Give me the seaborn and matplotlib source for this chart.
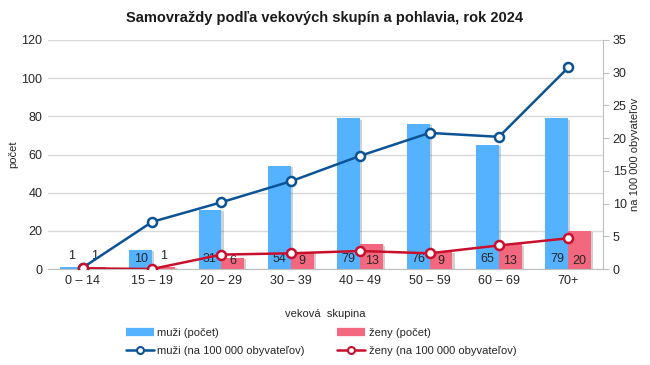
import numpy as np
import pandas as pd
import matplotlib
matplotlib.use("Agg")
import matplotlib.pyplot as plt
import matplotlib.patheffects as pe
from matplotlib.lines import Line2D
import seaborn as sns

# Data
groups = ["0 – 14", "15 – 19", "20 – 29", "30 – 39", "40 – 49", "50 – 59", "60 – 69", "70+"]
men_count = [1, 10, 31, 54, 79, 76, 65, 79]
women_count = [1, 1, 6, 9, 13, 9, 13, 20]
men_rate = [0.2, 7.2, 10.2, 13.4, 17.3, 20.8, 20.2, 30.8]
women_rate = [0.1, 0.0, 2.2, 2.4, 2.75, 2.4, 3.6, 4.7]

label_men_count = "muži (počet)"
label_women_count = "ženy (počet)"
label_men_rate = "muži (na 100 000 obyvateľov)"
label_women_rate = "ženy (na 100 000 obyvateľov)"

c_men_bar = "#55B2FF"
c_women_bar = "#F4687F"
c_men_line = "#0B5394"
c_women_line = "#C8102E"

sns.set_style("white")
plt.rcParams["font.family"] = ["Liberation Sans", "DejaVu Sans"]

df = pd.DataFrame({
    "group": groups * 2,
    "count": men_count + women_count,
    "sex": [label_men_count] * len(groups) + [label_women_count] * len(groups),
})

fig = plt.figure(figsize=(6.5, 3.65), dpi=100)
ax = fig.add_axes([48 / 650, 1 - 269 / 365, 555 / 650, 229 / 365])

sns.barplot(data=df, x="group", y="count", hue="sex", order=groups,
            palette=[c_men_bar, c_women_bar], width=0.66, ax=ax,
            legend=False, saturation=1, linewidth=0, edgecolor="none")
for p in ax.patches:
    p.set_path_effects([pe.SimplePatchShadow(offset=(1.5, -1), alpha=0.22), pe.Normal()])

ax.set_ylim(0, 120)
ax.set_yticks(np.arange(0, 121, 20))
ax.set_xlim(-0.5, len(groups) - 0.5)
ax.yaxis.grid(True, color="#D9D9D9", lw=1)
ax.set_axisbelow(True)
for s in ["top", "right", "left"]:
    ax.spines[s].set_visible(False)
ax.spines["bottom"].set_color("#BFBFBF")
ax.tick_params(axis="both", length=0, labelsize=9, colors="#262626", pad=4)
ax.set_xlabel("veková  skupina", fontsize=8, color="#262626", labelpad=16)
ax.set_ylabel("počet", fontsize=8, color="#262626")
ax.yaxis.set_label_coords(-0.054, 0.5)

# data labels near bar bases
x = np.arange(len(groups))
off = 0.165
for i in range(len(groups)):
    ym = 7 if men_count[i] < 5 else 5
    yw = 7 if women_count[i] < 5 else 4
    ax.text(x[i] - off, ym, str(men_count[i]), ha="center", va="center",
            fontsize=9, color="#262626", zorder=5)
    ax.text(x[i] + off, yw, str(women_count[i]), ha="center", va="center",
            fontsize=9, color="#262626", zorder=5)

ax2 = ax.twinx()
sns.lineplot(x=x, y=men_rate, ax=ax2, color=c_men_line, lw=1.8, marker="o",
             markersize=6.5, markerfacecolor="white", markeredgecolor=c_men_line,
             markeredgewidth=1.8, zorder=4)
sns.lineplot(x=x, y=women_rate, ax=ax2, color=c_women_line, lw=1.8, marker="o",
             markersize=6.5, markerfacecolor="white", markeredgecolor=c_women_line,
             markeredgewidth=1.8, zorder=4)
ax2.set_ylim(0, 35)
ax2.set_yticks(np.arange(0, 36, 5))
ax2.set_xlim(-0.5, len(groups) - 0.5)
for s in ["top", "left", "bottom"]:
    ax2.spines[s].set_visible(False)
ax2.spines["right"].set_color("#BFBFBF")
ax2.tick_params(axis="y", length=4, color="#BFBFBF", labelsize=9, labelcolor="#262626", pad=3)
ax2.set_ylabel("na 100 000 obyvateľov", fontsize=8, color="#262626", rotation=90)
ax2.yaxis.set_label_coords(1.049, 0.5)
ax2.grid(False)

fig.suptitle("Samovraždy podľa vekových skupín a pohlavia, rok 2024",
             x=0.5, y=1 - 18 / 365, va="center", fontsize=10.5, fontweight="bold", color="#1a1a1a")

handles = [
    Line2D([], [], color=c_men_bar, lw=6, solid_capstyle="butt"),
    Line2D([], [], color=c_men_line, lw=1.8, marker="o", markersize=5,
           markerfacecolor="white", markeredgewidth=1.5),
    Line2D([], [], color=c_women_bar, lw=6, solid_capstyle="butt"),
    Line2D([], [], color=c_women_line, lw=1.8, marker="o", markersize=5,
           markerfacecolor="white", markeredgewidth=1.5),
]
labels = [label_men_count, label_men_rate, label_women_count, label_women_rate]
fig.legend(handles, labels, ncol=2, loc="center", bbox_to_anchor=(0.494, 1 - 342 / 365),
           frameon=False, fontsize=8, handlelength=2.5, handletextpad=0.35,
           columnspacing=2.9, labelspacing=0.75, labelcolor="#262626")

fig.savefig("out.png", dpi=100)
